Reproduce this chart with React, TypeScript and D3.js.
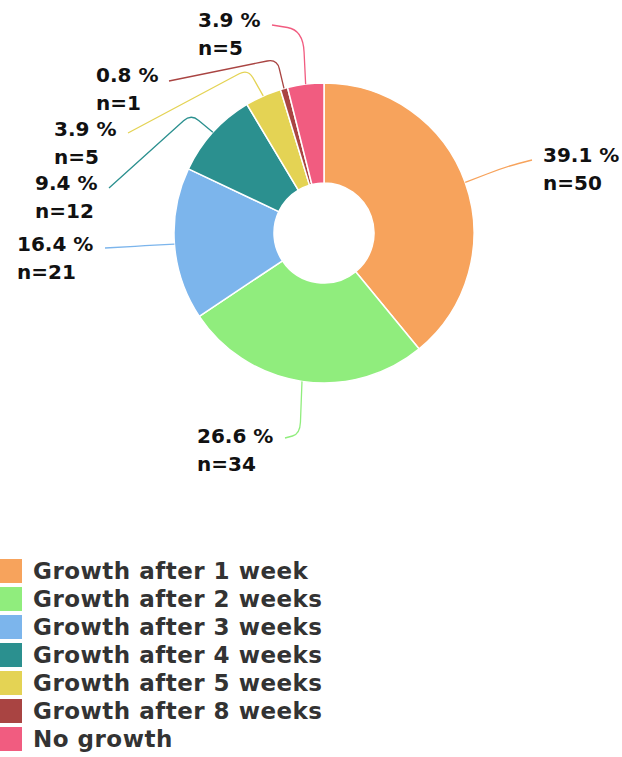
import React from 'react';
import * as d3 from 'd3';

const categories = [
  'Growth after 1 week',
  'Growth after 2 weeks',
  'Growth after 3 weeks',
  'Growth after 4 weeks',
  'Growth after 5 weeks',
  'Growth after 8 weeks',
  'No growth',
];
const counts = [50, 34, 21, 12, 5, 1, 5];
const colors = ['#f7a35c', '#90ed7d', '#7cb5ec', '#2b908f', '#e4d354', '#a94442', '#f15c80'];

// label layout (text left x, first-line baseline y, connector end, connector bend, corner radius)
const labelLayout = [
  { x: 543, y: 162, end: [532, 160], bend: [505, 167], r: 20 },
  { x: 197, y: 443, end: [285, 438], bend: [300, 434], r: 12 },
  { x: 17, y: 251, end: [105, 248], bend: [140, 246], r: 5 },
  { x: 35, y: 190, end: [109, 188], bend: [191, 114], r: 10 },
  { x: 54, y: 136, end: [128, 133], bend: [248, 69], r: 10 },
  { x: 96, y: 82, end: [169, 81], bend: [277, 59], r: 10 },
  { x: 198, y: 27, end: [272, 25], bend: [303, 30], r: 22 },
];

const W = 622;
const H = 757;
const cx = 324;
const cy = 233;
const R = 150;
const r0 = 50;

function cornerPath(p0: number[], p1: number[], p2: number[], rad: number) {
  const d01 = Math.hypot(p0[0] - p1[0], p0[1] - p1[1]);
  const d21 = Math.hypot(p2[0] - p1[0], p2[1] - p1[1]);
  const ra = Math.min(rad, d01 / 2);
  const rb = Math.min(rad, d21 / 2);
  const a = [p1[0] + ((p0[0] - p1[0]) / d01) * ra, p1[1] + ((p0[1] - p1[1]) / d01) * ra];
  const b = [p1[0] + ((p2[0] - p1[0]) / d21) * rb, p1[1] + ((p2[1] - p1[1]) / d21) * rb];
  const p = d3.path();
  p.moveTo(p0[0], p0[1]);
  p.lineTo(a[0], a[1]);
  p.quadraticCurveTo(p1[0], p1[1], b[0], b[1]);
  p.lineTo(p2[0], p2[1]);
  return p.toString();
}

export default function App() {
  const total = d3.sum(counts);
  const pie = d3.pie<number>().sort(null).value((d) => d).startAngle(0).endAngle(2 * Math.PI);
  const arcs = pie(counts);
  const arc = d3.arc<d3.PieArcDatum<number>>().innerRadius(r0).outerRadius(R);
  const edgeArc = d3.arc<d3.PieArcDatum<number>>().innerRadius(R).outerRadius(R);

  const legendY = d3.scaleBand<number>().domain(d3.range(categories.length)).range([558, 558 + 28 * categories.length]);

  const font = "'DejaVu Sans', Verdana, sans-serif";

  return (
    <svg width={W} height={H} style={{ position: 'absolute', left: 0, top: 0, background: '#fff' }} fontFamily={font}>
      <rect x={0} y={0} width={W} height={H} fill="#fff" />
      <g transform={`translate(${cx},${cy})`}>
        {arcs.map((a, i) => (
          <path key={i} d={arc(a) || ''} fill={colors[i]} stroke="#fff" strokeWidth={1.5} strokeLinejoin="round" />
        ))}
      </g>
      {arcs.map((a, i) => {
        const c = edgeArc.centroid(a);
        const edge = [cx + c[0], cy + c[1]];
        const L = labelLayout[i];
        return (
          <path
            key={'c' + i}
            d={cornerPath(L.end, L.bend, edge, L.r)}
            fill="none"
            stroke={colors[i]}
            strokeWidth={1.3}
          />
        );
      })}
      {arcs.map((a, i) => {
        const L = labelLayout[i];
        const pct = ((counts[i] / total) * 100).toFixed(1);
        return (
          <text key={'t' + i} x={L.x} y={L.y} fontSize={20} fontWeight="bold" fill="#111">
            <tspan x={L.x}>{`${pct} %`}</tspan>
            <tspan x={L.x} dy={28}>{`n=${counts[i]}`}</tspan>
          </text>
        );
      })}
      {categories.map((c, i) => (
        <g key={'l' + i}>
          <rect x={-2} y={(legendY(i) as number) + 1} width={24} height={24} fill={colors[i]} />
          <text x={33} y={(legendY(i) as number) + 21} fontSize={23} letterSpacing={0.5} fontWeight="bold" fill="#333">
            {c}
          </text>
        </g>
      ))}
    </svg>
  );
}
